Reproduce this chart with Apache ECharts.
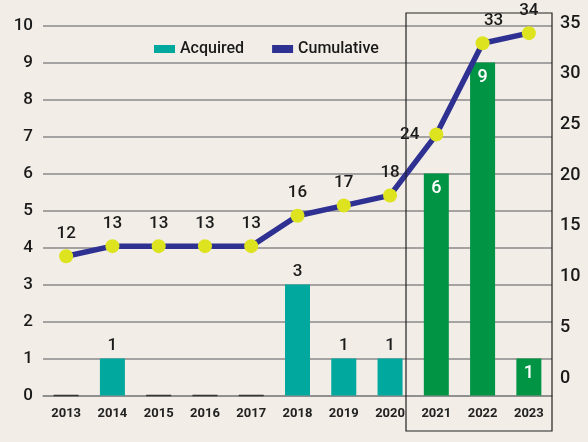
<!DOCTYPE html>
<html>
<head>
<meta charset="utf-8">
<script src="https://cdn.jsdelivr.net/npm/echarts@6/dist/echarts.min.js"></script>
<style>
  html, body { margin: 0; padding: 0; }
  #chart { width: 588px; height: 442px; background: #f2eee7; }
</style>
</head>
<body>
<div id="chart"></div>
<script>
// data
var years = ["2013", "2014", "2015", "2016", "2017", "2018", "2019", "2020", "2021", "2022", "2023"];
var acquired = [0, 1, 0, 0, 0, 3, 1, 1, 6, 9, 1];
var cumulative = [12, 13, 13, 13, 13, 16, 17, 18, 24, 33, 34];
var recentYears = ["2021", "2022", "2023"];

var teal = "#00a89d";
var green = "#009444";
var navy = "#2e3192";
var dot = "#dde31f";
var font = "Roboto";

var chart = echarts.init(document.getElementById("chart"));

var barData = acquired.map(function (v, i) {
  var recent = recentYears.indexOf(years[i]) >= 0;
  var item = {
    value: v,
    itemStyle: { color: recent ? green : teal },
    label: recent
      ? { show: true, position: "insideTop", distance: 6, color: "#fff", fontSize: 18, fontWeight: 500 }
      : { show: v > 0, position: "top", distance: 4, color: "#1a1a1a", fontSize: 17, fontWeight: 500 },
  };
  if (v === 0) {
    // zero years show a short dark stroke on the baseline
    item.itemStyle.borderColor = "#333";
    item.itemStyle.borderWidth = 1.5;
  }
  return item;
});

var lineData = cumulative.map(function (v, i) {
  var item = { value: v };
  if (years[i] === "2021") item.label = { position: "left", distance: 10 };
  if (years[i] === "2022") item.label = { offset: [11, 0] };
  return item;
});

var option = {
  animation: false,
  grid: [
    { left: 43, right: 36, top: 25.5, height: 370 },
    { left: 43, right: 36, top: 23, height: 355 },
  ],
  legend: {
    top: 36,
    left: 149,
    itemWidth: 21,
    itemHeight: 8,
    itemGap: 28,
    icon: "rect",
    textStyle: { fontFamily: font, fontSize: 16, fontWeight: 500, color: "#1a1a1a" },
    data: [
      { name: "Acquired", itemStyle: { color: teal } },
      { name: "Cumulative", itemStyle: { color: navy } },
    ],
  },
  xAxis: [
    {
      gridIndex: 0,
      type: "category",
      data: years,
      axisLine: { lineStyle: { color: "#8a8a8a", width: 1.5 } },
      axisTick: { show: false },
      axisLabel: { margin: 12, fontFamily: font, fontSize: 13, fontWeight: "bold", color: "#222" },
    },
    {
      gridIndex: 1,
      type: "category",
      data: years,
      show: false,
    },
  ],
  yAxis: [
    {
      gridIndex: 0,
      type: "value",
      min: 0,
      max: 10,
      interval: 1,
      axisLine: { show: false },
      axisTick: { show: false },
      axisLabel: { margin: 10, fontFamily: font, fontSize: 17, fontWeight: 500, color: "#1a1a1a" },
      splitLine: { lineStyle: { color: "#8a8a8a", width: 1.5 } },
    },
    {
      gridIndex: 1,
      type: "value",
      position: "right",
      min: 0,
      max: 35,
      interval: 5,
      axisLine: { show: false },
      axisTick: { show: false },
      axisLabel: { margin: 8, fontFamily: font, fontSize: 18, fontWeight: 500, color: "#1a1a1a" },
      splitLine: { show: false },
    },
  ],
  graphic: [
    {
      type: "rect",
      shape: { x: 406, y: 13, width: 146, height: 418 },
      style: { fill: "none", stroke: "#222", lineWidth: 1.2 },
      z: 10,
    },
  ],
  series: [
    {
      name: "Acquired",
      type: "bar",
      xAxisIndex: 0,
      yAxisIndex: 0,
      barWidth: 25,
      label: { fontFamily: font },
      data: barData,
    },
    {
      name: "Cumulative",
      type: "line",
      xAxisIndex: 1,
      yAxisIndex: 1,
      symbol: "circle",
      symbolSize: 14,
      itemStyle: { color: dot },
      lineStyle: { color: navy, width: 5.5 },
      label: {
        show: true,
        position: "top",
        distance: 7,
        fontFamily: font,
        fontSize: 17,
        fontWeight: 500,
        color: "#1a1a1a",
      },
      z: 5,
      data: lineData,
    },
  ],
};

chart.setOption(option);
</script>
</body>
</html>
